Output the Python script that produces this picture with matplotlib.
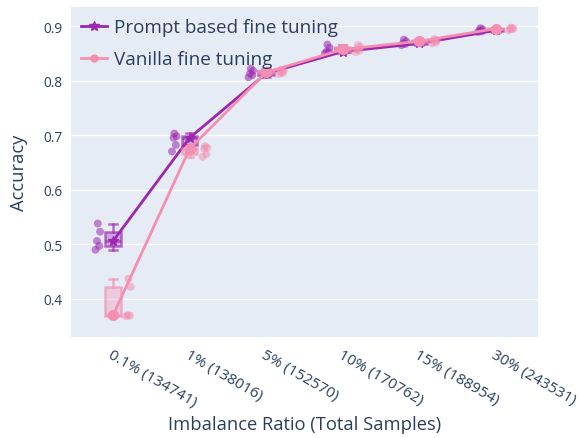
import numpy as np
import matplotlib
matplotlib.use("Agg")
import matplotlib.pyplot as plt
from matplotlib.lines import Line2D

plt.rcParams['font.family'] = ['Open Sans', 'DejaVu Sans']

categories = ["0.1% (134741)", "1% (138016)", "5% (152570)",
              "10% (170762)", "15% (188954)", "30% (243531)"]

# accuracy of individual runs per imbalance ratio
prompt_runs = [
    [0.490, 0.497, 0.506, 0.523, 0.538],
    [0.670, 0.682, 0.695, 0.698, 0.703],
    [0.806, 0.810, 0.813, 0.818, 0.822],
    [0.850, 0.852, 0.853, 0.860, 0.866],
    [0.865, 0.867, 0.868, 0.872, 0.875],
    [0.889, 0.890, 0.892, 0.894, 0.896],
]
vanilla_runs = [
    [0.368, 0.369, 0.370, 0.422, 0.437],
    [0.660, 0.665, 0.675, 0.677, 0.680],
    [0.812, 0.814, 0.815, 0.818, 0.820],
    [0.852, 0.855, 0.857, 0.862, 0.865],
    [0.868, 0.870, 0.872, 0.874, 0.876],
    [0.892, 0.894, 0.895, 0.896, 0.897],
]

TXT = "#2a3f5f"
BG = "#e5ecf6"
PURPLE = "#9c27b0"
PINK = "#f48fb1"

fig = plt.figure(figsize=(5.82, 4.39), dpi=100)
ax = fig.add_axes([0.122, 0.230, 0.802, 0.752])
ax.set_facecolor(BG)
for s in ax.spines.values():
    s.set_visible(False)

pos = np.arange(len(categories))
jit = np.array([-0.03, 0.02, -0.01, 0.03, 0.0])


def draw(runs, color, pointpos, marker, label, z):
    bp = ax.boxplot(runs, positions=pos, widths=0.2, patch_artist=True,
                    whis=(0, 100), showfliers=False, capwidths=0.1,
                    zorder=z)
    for b in bp['boxes']:
        b.set_facecolor(matplotlib.colors.to_rgba(color, 0.35))
        b.set_edgecolor(matplotlib.colors.to_rgba(color, 0.65))
        b.set_linewidth(1.8)
    for k in ('whiskers', 'caps', 'medians'):
        for l in bp[k]:
            l.set_color(matplotlib.colors.to_rgba(color, 0.65))
            l.set_linewidth(1.8)
    for i, r in enumerate(runs):
        ax.scatter(pos[i] + pointpos + jit, r, s=32, color=color,
                   alpha=0.55, edgecolors='none', zorder=z)
    med = [np.median(r) for r in runs]
    ax.plot(pos, med, color=color, lw=2, marker=marker, ms=7,
            label=label, zorder=z + 1)


draw(prompt_runs, PURPLE, -0.2, '*', "Prompt based fine tuning", 3)
draw(vanilla_runs, PINK, 0.2, 'o', "Vanilla fine tuning", 4)

ax.set_xlim(-0.55, 5.55)
ax.set_ylim(0.330, 0.935)
ax.set_yticks([0.4, 0.5, 0.6, 0.7, 0.8, 0.9])
ax.set_yticklabels(["0.4", "0.5", "0.6", "0.7", "0.8", "0.9"])
ax.yaxis.grid(True, color="white", lw=1)
ax.set_axisbelow(True)
ax.set_xticks(pos)
ax.set_xticklabels(categories, rotation=-30, ha='left', va='top',
                   rotation_mode='anchor')
ax.tick_params(axis='both', length=0, colors=TXT)
ax.tick_params(axis='x', pad=7, labelsize=11)
ax.tick_params(axis='y', pad=6, labelsize=9.8)

ax.set_ylabel("Accuracy", fontsize=13.2, color=TXT, labelpad=11)
ax.set_xlabel("Imbalance Ratio (Total Samples)", fontsize=13.2, color=TXT,
              labelpad=4)

handles = [Line2D([], [], color=PURPLE, lw=2, marker='*', ms=7),
           Line2D([], [], color=PINK, lw=2, marker='o', ms=5)]
leg = ax.legend(handles, ["Prompt based fine tuning", "Vanilla fine tuning"],
                loc='upper left', bbox_to_anchor=(-0.015, 1.017), frameon=False,
                fontsize=13.6, handlelength=1.4, labelspacing=0.75,
                handletextpad=0.35)
for t in leg.get_texts():
    t.set_color(TXT)

fig.savefig("out.png", dpi=100)
